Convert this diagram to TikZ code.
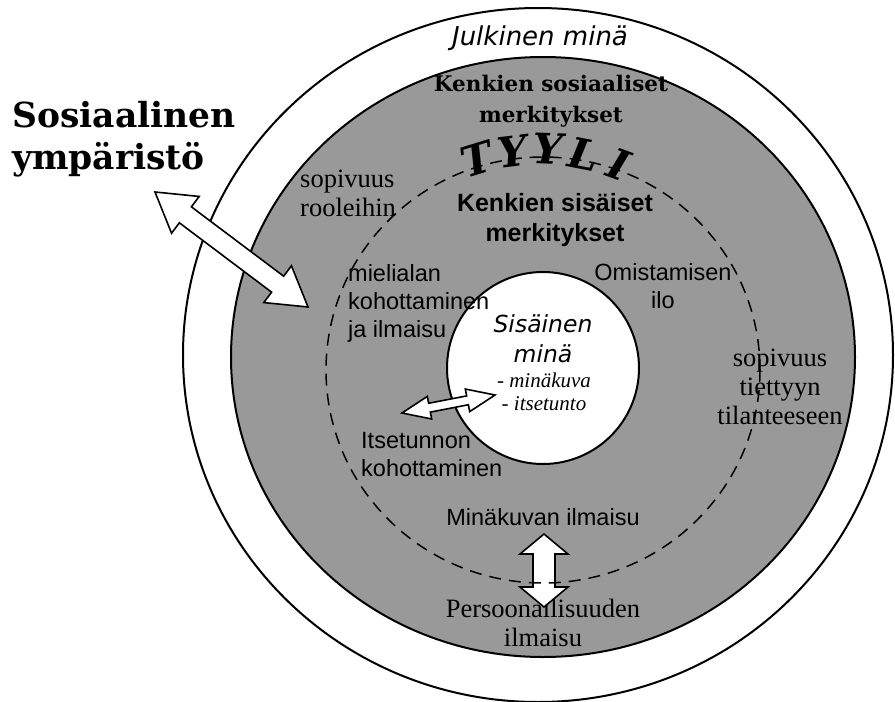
\documentclass[tikz,border=0pt]{standalone}
\usepackage{fontspec}
\setmainfont{Liberation Serif}
\newfontfamily\arialfont{Liberation Sans}
\newfontfamily\verdanafont{DejaVu Sans}
\newfontfamily\slabfont{DejaVu Serif}
\usetikzlibrary{calc}

\definecolor{ringgray}{RGB}{153,153,153}

\tikzset{
  ring/.style={draw=black, line width=2pt},
  blockarrow/.style={draw=black, fill=white, line width=1.6pt, line join=miter},
  innerlabel/.style={font=\arialfont\fontsize{23.5}{28}\selectfont, inner sep=0pt},
  outerlabel/.style={font=\fontsize{26.5}{29}\selectfont, inner sep=0pt},
  tyyli/.style={font=\slabfont\bfseries\itshape\fontsize{42}{42}\selectfont, inner sep=0pt},
}

% kaksipäinen nuoli kahden pisteen välille: #1, #2 kärjet, #3 varren puolileveys, #4 kärjen puolileveys, #5 kärjen pituus
\newcommand{\dblarrow}[5]{%
  \draw[blockarrow] (#1)
    -- ($(#1)!#5!(#2)!#4!-90:(#2)$) -- ($(#1)!#5!(#2)!#3!-90:(#2)$)
    -- ($(#2)!#5!(#1)!#3!90:(#1)$) -- ($(#2)!#5!(#1)!#4!90:(#1)$)
    -- (#2)
    -- ($(#2)!#5!(#1)!#4!-90:(#1)$) -- ($(#2)!#5!(#1)!#3!-90:(#1)$)
    -- ($(#1)!#5!(#2)!#3!90:(#2)$) -- ($(#1)!#5!(#2)!#4!90:(#2)$)
    -- cycle;}

\begin{document}
\begin{tikzpicture}[x=1pt, y=-1pt]
    % --- mitat ---
    \def\cx{543}      % renkaiden keskikohta
    \def\cy{357}
    \useasboundingbox (0,0) rectangle (895,702);

    % --- renkaat ---
    % julkinen minä (uloin)
    \draw[ring, fill=white] (538,355) ellipse [x radius=355, y radius=347];
    % sosiaaliset merkitykset (harmaa)
    \draw[ring, fill=ringgray] (\cx,\cy) ellipse [x radius=312, y radius=300];
    % sisäinen minä
    \draw[ring, fill=white] (\cx,368) ellipse [x radius=96, y radius=96];

    % --- tekstit ---
    \node[font=\verdanafont\itshape\fontsize{26}{30}\selectfont, inner sep=0pt, anchor=base] (julkinen) at (540,45) {Julkinen minä};
    \node[font=\slabfont\bfseries\fontsize{21.5}{31}\selectfont, inner sep=0pt, align=center] (sosiaaliset) at (551,101) {Kenkien sosiaaliset\\merkitykset};
    \node[font=\arialfont\bfseries\fontsize{25}{30}\selectfont, inner sep=0pt, align=center] (sisaiset) at (555,220) {Kenkien sisäiset\\merkitykset};
    \node[font=\slabfont\bfseries\fontsize{34.5}{42}\selectfont, inner sep=0pt, align=left, anchor=west] (ymparisto) at (12,139) {Sosiaalinen\\ympäristö};

    % TYYLI kaarella
    \foreach \ch/\px/\py/\rot [count=\i] in {T/477/159/17, Y/513/151/7, Y/548/149/-2, L/584/154/-11, I/619/164/-20}
      \node[tyyli, rotate=\rot] (tyyli\i) at (\px,\py) {\ch};

    \node[outerlabel, align=left, anchor=west] (rooleihin) at (300,193) {sopivuus\\rooleihin};
    \node[innerlabel, align=left, anchor=west] (mieliala) at (348,303) {mielialan\\kohottaminen\\ja ilmaisu};
    \node[innerlabel, align=center] (omistaminen) at (663,286) {Omistamisen\\ilo};
    \node[font=\verdanafont\itshape\fontsize{23.5}{30}\selectfont, inner sep=0pt, align=center] (sisainen) at (\cx,339) {Sisäinen\\minä};
    \node[font=\itshape\fontsize{21}{23}\selectfont, inner sep=0pt, align=center] (minakuva) at (544,392) {- minäkuva\\- itsetunto};
    \node[innerlabel, align=left, anchor=west] (itsetunto) at (361,455) {Itsetunnon\\kohottaminen};
    \node[innerlabel] (ilmaisu) at (\cx,517) {Minäkuvan ilmaisu};
    \node[outerlabel, align=center] (persoona) at (\cx,623) {Persoonallisuuden\\ilmaisu};
    \node[outerlabel, align=center] (tilanne) at (780,387) {sopivuus\\tiettyyn\\tilanteeseen};

    % --- nuolet ---
    \coordinate (ymp) at (155,192);
    \coordinate (rengas) at (308,307);
    \coordinate (tunto) at (402,413);
    \coordinate (ydin) at (495,395);
    \coordinate (ylos) at (544,534);
    \coordinate (alas) at (544,607);
    \dblarrow{ymp}{rengas}{10pt}{23pt}{38pt}
    \dblarrow{tunto}{ydin}{4.5pt}{11.5pt}{28pt}
    \dblarrow{ylos}{alas}{11pt}{24pt}{20pt}

    % --- sisäisten merkitysten raja (katkoviiva) ---
    \draw[line width=1.5pt, dash pattern=on 12pt off 8pt] (\cx,370) ellipse [x radius=217, y radius=213];

\end{tikzpicture}
\end{document}
